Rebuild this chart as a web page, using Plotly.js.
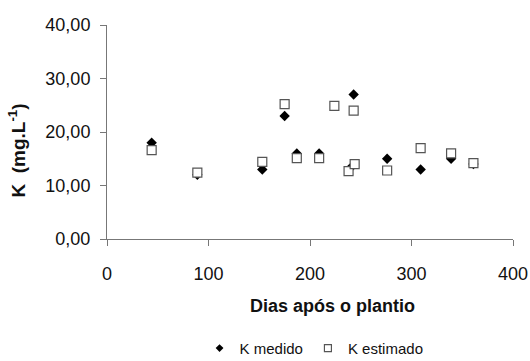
<!DOCTYPE html>
<html>
<head>
<meta charset="utf-8">
<script src="https://cdn.plot.ly/plotly-3.0.1.min.js"></script>
<style>html,body{margin:0;padding:0;background:#fff;}#chart{width:530px;height:361px;}</style>
</head>
<body>
<div id="chart"></div>
<script>
const diasMedido = [44, 89, 153, 175, 187, 209, 240, 243, 276, 309, 339, 361];
const kMedido = [18.0, 12.0, 13.0, 23.0, 16.0, 16.0, 13.3, 27.0, 15.0, 13.0, 15.0, 14.0];
const diasEstimado = [44, 89, 153, 175, 187, 209, 224, 238, 243, 244, 276, 309, 339, 361];
const kEstimado = [16.6, 12.4, 14.4, 25.2, 15.1, 15.1, 24.9, 12.7, 24.0, 14.0, 12.8, 17.0, 16.0, 14.2];
const xTicks = [0, 100, 200, 300, 400];
const yTicks = [0, 10, 20, 30, 40];
const seriesNames = ['K medido', 'K estimado'];

const font = 'Liberation Sans, Arial, sans-serif';
const nb = n => '&nbsp;'.repeat(n);
const medidoMarker = {symbol: 'diamond', color: '#000000', line: {width: 0}};
const estimadoMarker = {symbol: 'square', color: '#ffffff', line: {width: 1.2, color: '#555555'}};
const traces = [
  {x: diasMedido, y: kMedido, name: seriesNames[0], type: 'scatter', mode: 'markers', showlegend: false,
   marker: Object.assign({size: 8}, medidoMarker)},
  {x: diasEstimado, y: kEstimado, name: seriesNames[1], type: 'scatter', mode: 'markers', showlegend: false,
   marker: Object.assign({size: 9}, estimadoMarker)},
  {x: [null], y: [null], name: seriesNames[0], type: 'scatter', mode: 'markers',
   marker: Object.assign({size: 6}, medidoMarker)},
  {x: [null], y: [null], name: seriesNames[1], type: 'scatter', mode: 'markers',
   marker: Object.assign({size: 7}, estimadoMarker)}
];
const layout = {
  width: 530, height: 361,
  margin: {l: 107, r: 17, t: 25, b: 122},
  paper_bgcolor: '#ffffff', plot_bgcolor: '#ffffff',
  separators: ',.',
  font: {family: font, color: '#111111', size: 16},
  showlegend: true,
  legend: {orientation: 'h', xref: 'paper', x: 0.51, xanchor: 'center',
           yref: 'container', y: 0.035, yanchor: 'middle',
           font: {family: font, size: 15, color: '#111111'}, itemwidth: 30, tracegroupgap: 0},
  xaxis: {
    range: [0, 400], tickvals: xTicks, ticks: 'outside', ticklen: 6, tickcolor: '#777777',
    showline: true, linecolor: '#777777', linewidth: 1, showgrid: false, zeroline: false,
    automargin: false, ticklabelstandoff: 12,
    tickfont: {family: font, size: 18, color: '#111111'},
    title: {text: nb(9) + 'Dias após o plantio', font: {family: font, size: 18, color: '#111111', weight: 'bold'}, standoff: 16},
    fixedrange: true
  },
  yaxis: {
    range: [0, 40], tickvals: yTicks, tickformat: '.2f', ticks: 'outside', ticklen: 6, tickcolor: '#777777',
    showline: true, linecolor: '#777777', linewidth: 1, showgrid: false, zeroline: false,
    automargin: false, ticklabelstandoff: 6,
    tickfont: {family: font, size: 18, color: '#111111'},
    title: {text: 'K  (mg.L<sup>-1</sup>)' + nb(7), font: {family: font, size: 19, color: '#111111', weight: 'bold'}, standoff: 14},
    fixedrange: true
  }
};
Plotly.newPlot('chart', traces, layout, {displayModeBar: false, staticPlot: true});
</script>
</body>
</html>
